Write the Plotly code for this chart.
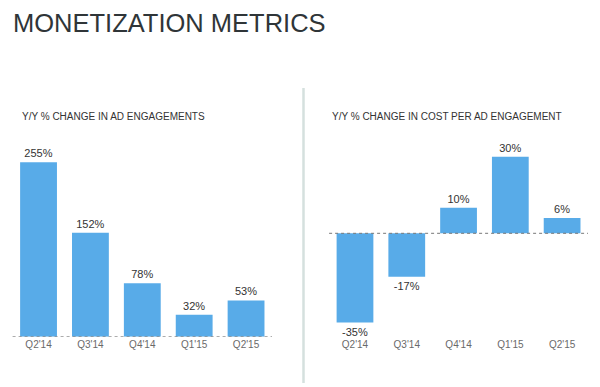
import plotly.graph_objects as go

# browser body margin offsets the figure by 8px; compensate
OFF = 8
W, H = 600 - OFF, 387 - OFF

quarters = ["Q2'14", "Q3'14", "Q4'14", "Q1'15", "Q2'15"]
ad_engagement_change = [255, 152, 78, 32, 53]
cost_per_engagement_change = [-35, -17, 10, 30, 6]

main_title = "MONETIZATION METRICS"
left_title = "Y/Y % CHANGE IN AD ENGAGEMENTS"
right_title = "Y/Y % CHANGE IN COST PER AD ENGAGEMENT"

BAR = "#58abe8"
FONT = "Arial, Liberation Sans, sans-serif"


def fx(px):
    return (px - OFF) / W


def fy(py):
    return 1 - (py - OFF) / H


fig = go.Figure()

fig.add_trace(go.Bar(
    x=quarters, y=ad_engagement_change, marker_color=BAR, marker_line_width=0,
    width=0.71, text=[f"{v}%" for v in ad_engagement_change],
    textposition="outside", cliponaxis=False,
    textfont=dict(size=11, color="#333333", family=FONT),
    xaxis="x", yaxis="y", showlegend=False, hoverinfo="skip"))

fig.add_trace(go.Bar(
    x=quarters, y=cost_per_engagement_change, marker_color=BAR, marker_line_width=0,
    width=0.71, text=[f"{v}%" for v in cost_per_engagement_change],
    textposition="outside", cliponaxis=False,
    textfont=dict(size=11, color="#333333", family=FONT),
    xaxis="x2", yaxis="y2", showlegend=False, hoverinfo="skip"))

base_px = 337.0
left_top_px = 146.7
left_scale = 0.684
left_base = 336.7
right_top_px = 146.7
right_scale = 2.55
right_base = 233.3

tickfont = dict(size=10, color="#6a6a6a", family=FONT)

fig.update_layout(
    width=W, height=H, autosize=False,
    margin=dict(l=0, r=0, t=0, b=0),
    paper_bgcolor="white", plot_bgcolor="rgba(0,0,0,0)",
    xaxis=dict(domain=[fx(12.6), fx(272)], range=[-0.5, 4.5], anchor="y",
               showgrid=False, zeroline=False, showline=False, ticks="",
               tickfont=tickfont, fixedrange=True),
    yaxis=dict(domain=[fy(left_base), fy(left_top_px)],
               range=[0, (left_base - left_top_px) / left_scale], anchor="x",
               visible=False, fixedrange=True),
    xaxis2=dict(domain=[fx(329.1), fx(588)], range=[-0.5, 4.5], anchor="y2",
                showgrid=False, zeroline=False, showline=False, ticks="",
                tickfont=tickfont, fixedrange=True),
    yaxis2=dict(domain=[fy(base_px), fy(right_top_px)],
                range=[-(base_px - right_base) / right_scale,
                       (right_base - right_top_px) / right_scale],
                anchor="x2", visible=False, fixedrange=True),
    showlegend=False,
)

fig.add_shape(type="line", xref="x domain", yref="y", x0=0, x1=1, y0=0, y1=0,
              line=dict(color="#777777", width=1, dash="dot"), layer="above")
fig.add_shape(type="line", xref="x2 domain", yref="y2", x0=0, x1=1, y0=0, y1=0,
              line=dict(color="#777777", width=1, dash="dot"), layer="above")

fig.add_shape(type="line", xref="paper", yref="paper", x0=fx(303.5), x1=fx(303.5),
              y0=fy(88), y1=fy(383), line=dict(color="#d5e0de", width=2.5))

fig.add_annotation(text=main_title, xref="paper", yref="paper", x=fx(11), y=fy(22.5),
                   xanchor="left", yanchor="middle", showarrow=False,
                   font=dict(size=25.5, color="#2f3538", family=FONT))
fig.add_annotation(text=left_title, xref="paper", yref="paper", x=fx(20), y=fy(117),
                   xanchor="left", yanchor="middle", showarrow=False,
                   font=dict(size=10, color="#333333", family=FONT))
fig.add_annotation(text=right_title, xref="paper", yref="paper", x=fx(330), y=fy(117),
                   xanchor="left", yanchor="middle", showarrow=False,
                   font=dict(size=10, color="#333333", family=FONT))

fig.write_html("out.html", config={"displayModeBar": False})
